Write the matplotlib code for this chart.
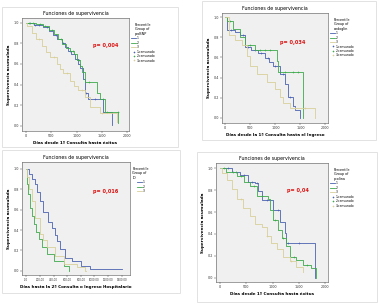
import numpy as np
import matplotlib.pyplot as plt
from matplotlib.patches import Rectangle
from matplotlib.lines import Line2D

W, H = 379, 304

# ---- data ----
groups = ["1", "2", "3"]
colors = ["#4a62b0", "#3caa4a", "#d8cf98"]

# panel 1: Dias desde 1a Consulta hasta exitus
p1_t = [
    [0, 150, 343, 450, 541, 620, 703, 770, 838, 900, 970, 1030, 1069, 1135, 1168, 1220, 1531, 1696, 1700],
    [0, 200, 330, 460, 560, 640, 720, 800, 870, 960, 1010, 1060, 1110, 1170, 1400, 1460, 1570, 1828, 1830],
    [0, 20, 112, 200, 307, 400, 475, 607, 680, 739, 871, 950, 1036, 1168, 1267, 1465, 1795, 1800],
]
p1_s = [
    [1.0, 0.98, 0.96, 0.92, 0.88, 0.84, 0.80, 0.76, 0.73, 0.70, 0.65, 0.60, 0.56, 0.45, 0.32, 0.26, 0.13, 0.01, 0.01],
    [1.0, 0.99, 0.97, 0.93, 0.89, 0.84, 0.79, 0.75, 0.73, 0.70, 0.64, 0.58, 0.52, 0.42, 0.32, 0.26, 0.13, 0.03, 0.03],
    [1.0, 0.97, 0.90, 0.84, 0.77, 0.72, 0.67, 0.60, 0.55, 0.51, 0.43, 0.39, 0.35, 0.28, 0.185, 0.12, 0.04, 0.04],
]
p1_c = [[80, 180, 260, 420, 600, 740, 880, 1000, 1180, 1360, 1520],
        [60, 140, 280, 380, 520, 700, 930, 1050, 1250, 1600, 1825],
        [250, 560, 820, 1100, 1500]]

# panel 2: Dias desde la 1a Consulta hasta el Ingreso
p2_t = [
    [0, 33, 200, 298, 400, 520, 662, 795, 880, 960, 1093, 1192, 1258, 1358, 1390, 1490, 1492],
    [0, 40, 150, 298, 397, 596, 1040, 1060, 1550, 1552],
    [0, 66, 199, 330, 430, 497, 630, 828, 994, 1093, 1160, 1291, 1788, 1790],
]
p2_s = [
    [1.0, 0.875, 0.85, 0.82, 0.70, 0.67, 0.64, 0.59, 0.55, 0.51, 0.44, 0.34, 0.21, 0.12, 0.08, 0.0, 0.0],
    [1.0, 0.96, 0.88, 0.80, 0.72, 0.67, 0.56, 0.46, 0.0, 0.0],
    [1.0, 0.82, 0.77, 0.72, 0.61, 0.51, 0.44, 0.36, 0.29, 0.21, 0.15, 0.10, 0.0, 0.0],
]
p2_c = [[120, 350, 450, 600, 720, 850, 1000, 1150, 1300],
        [100, 500, 700, 800, 900, 1200, 1350, 1450],
        [1400, 1600]]

# panel 3: Dias hasta la 2a Consulta o Ingreso Hospitalario
p3_t = [
    [0, 34, 80, 127, 151, 200, 249, 322, 380, 419, 443, 492, 565, 663, 809, 931, 1400],
    [0, 10, 30, 58, 80, 107, 140, 180, 229, 302, 400, 546, 619, 620],
    [0, 10, 40, 83, 132, 205, 250, 302, 424, 546, 741, 863, 880],
]
p3_s = [
    [1.0, 0.95, 0.90, 0.85, 0.77, 0.68, 0.58, 0.48, 0.42, 0.35, 0.29, 0.21, 0.13, 0.10, 0.05, 0.02, 0.02],
    [1.0, 0.85, 0.75, 0.62, 0.54, 0.46, 0.38, 0.31, 0.23, 0.17, 0.10, 0.05, 0.0, 0.0],
    [1.0, 0.92, 0.80, 0.68, 0.52, 0.36, 0.30, 0.23, 0.15, 0.07, 0.04, 0.0, 0.0],
]
p3_c = [[], [], []]

# panel 4: Dias desde 1a Consulta hasta exitus
p4_t = [
    [0, 63, 221, 379, 537, 663, 726, 789, 1010, 1136, 1231, 1262, 1799, 1800],
    [0, 120, 316, 450, 568, 694, 915, 947, 1010, 1104, 1168, 1262, 1325, 1452, 1578, 1736, 1831, 1832],
    [0, 31, 126, 221, 316, 442, 568, 663, 789, 884, 978, 1073, 1199, 1325, 1452, 1578, 1580],
]
p4_s = [
    [1.0, 1.0, 0.97, 0.94, 0.88, 0.87, 0.79, 0.71, 0.62, 0.51, 0.41, 0.32, 0.0, 0.0],
    [1.0, 0.97, 0.93, 0.88, 0.84, 0.75, 0.72, 0.62, 0.53, 0.44, 0.36, 0.29, 0.19, 0.16, 0.12, 0.09, 0.0, 0.0],
    [1.0, 0.96, 0.89, 0.81, 0.72, 0.64, 0.56, 0.49, 0.46, 0.38, 0.32, 0.26, 0.19, 0.15, 0.10, 0.05, 0.05],
]
p4_c = [[150, 300, 450, 600, 700, 900, 1100, 1300, 1500],
        [80, 250, 400, 640, 800, 1050, 1200, 1400, 1650],
        [400, 900, 1350]]

panels = [
    dict(box=(22, 18, 129, 131), frame=(2, 7, 178, 147), t=p1_t, s=p1_s, c=p1_c,
         xlim=(-80, 2040), ylim=(-0.05, 1.045), xticks=[0, 500, 1000, 1500, 2000],
         xlabel="Días desde 1ª Consulta hasta éxitus", legtitle="Percentile\nGroup of\nproBNP",
         p="p= 0,004", ppos=(0.78, 0.76), cens=True),
    dict(box=(222, 13, 328, 123), frame=(202, 1, 376, 140), t=p2_t, s=p2_s, c=p2_c,
         xlim=(-65, 2050), ylim=(-0.05, 1.04), xticks=[0, 500, 1000, 1500, 2000],
         xlabel="Días desde la 1ª Consulta hasta el Ingreso", legtitle="Percentile\nGroup of\nendoglin",
         p="p= 0,034", ppos=(0.67, 0.73), cens=True),
    dict(box=(22, 162, 130, 275), frame=(2, 150, 180, 293), t=p3_t, s=p3_s, c=p3_c,
         xlim=(-63, 1521), ylim=(-0.04, 1.065), xticks=[0, 200, 400, 600, 800, 1000, 1200, 1400],
         xlabel="Días hasta la 2ª Consulta o Ingreso Hospitalario", legtitle="Percentile\nGroup of\nID",
         p="p= 0,016", ppos=(0.77, 0.74), cens=False),
    dict(box=(216, 163, 328, 282), frame=(197, 152, 377, 302), t=p4_t, s=p4_s, c=p4_c,
         xlim=(-76, 2051), ylim=(-0.04, 1.05), xticks=[0, 500, 1000, 1500, 2000],
         xlabel="Días desde 1ª Consulta hasta éxitus", legtitle="Percentile\nGroup of\npcolina",
         p="p= 0,04", ppos=(0.73, 0.77), cens=True),
]

fig = plt.figure(figsize=(W / 100, H / 100), dpi=100)
fig.patch.set_facecolor("white")

for pn in panels:
    fx0, fy0, fx1, fy1 = pn["frame"]
    fig.patches.append(Rectangle((fx0 / W, 1 - fy1 / H), (fx1 - fx0) / W, (fy1 - fy0) / H,
                                 transform=fig.transFigure, fill=False, edgecolor="#e2e2e2", lw=0.7))
    x0, y0, x1, y1 = pn["box"]
    ax = fig.add_axes([x0 / W, 1 - y1 / H, (x1 - x0) / W, (y1 - y0) / H])
    ax.set_facecolor("#f0f0f0")
    for sp in ax.spines.values():
        sp.set_color("#555555")
        sp.set_linewidth(0.4)

    for t, s, c, col in zip(pn["t"], pn["s"], pn["c"], colors):
        ax.step(t, s, where="post", color=col, lw=0.6)
        if c:
            idx = np.searchsorted(t, c, side="right") - 1
            ax.plot(c, np.array(s)[idx], "+", color=col, ms=2, mew=0.4)

    ax.set_xlim(pn["xlim"])
    ax.set_ylim(pn["ylim"])
    ax.set_xticks(pn["xticks"])
    if pn["cens"]:
        ax.set_xticklabels([str(v) for v in pn["xticks"]])
        xsize = 2.4
    else:
        ax.set_xticklabels([(f"{v},00" if v else ",00") for v in pn["xticks"]])
        xsize = 1.9
    yt = [0, 0.2, 0.4, 0.6, 0.8, 1.0]
    ax.set_yticks(yt)
    ax.set_yticklabels([f"{v:.1f}".replace(".", ",") for v in yt])
    ax.tick_params(labelsize=2.4, length=1.2, width=0.3, pad=1, colors="#333333")
    ax.tick_params(axis="x", labelsize=xsize)

    ax.set_title("Funciones de supervivencia", fontsize=3.4, pad=2.5)
    ax.set_xlabel(pn["xlabel"], fontsize=3.0, fontweight="bold", labelpad=2)
    ax.set_ylabel("Supervivencia acumulada", fontsize=3.0, fontweight="bold", labelpad=2)
    ax.text(pn["ppos"][0], pn["ppos"][1], pn["p"], transform=ax.transAxes, color="#dd1111",
            fontsize=3.6, fontweight="bold", ha="center", va="center")

    handles = [Line2D([], [], color=col, lw=0.6) for col in colors]
    labels = list(groups)
    if pn["cens"]:
        handles += [Line2D([], [], color=col, marker="+", ls="", ms=2, mew=0.4) for col in colors]
        labels += [g + "-censurado" for g in groups]
    ax.legend(handles, labels, title=pn["legtitle"], loc="upper left", bbox_to_anchor=(1.01, 0.97),
              fontsize=2.2, title_fontproperties={"size": 2.4}, frameon=False,
              handlelength=1.5, handletextpad=0.3, labelspacing=0.15, borderaxespad=0)

fig.savefig("out.png", dpi=100)
